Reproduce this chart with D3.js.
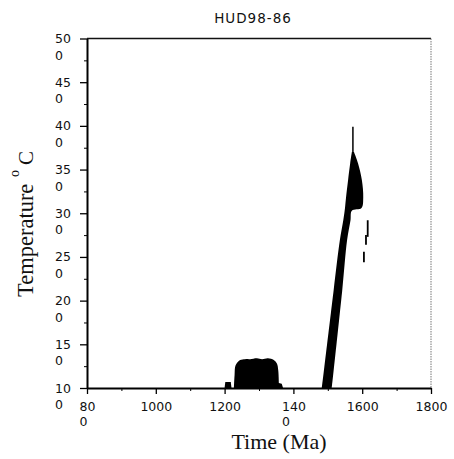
<!DOCTYPE html>
<html>
<head>
<meta charset="utf-8">
<script src="https://cdn.jsdelivr.net/npm/d3@7"></script>
<style>
    body { margin: 0; background: #fff; }
    .tick-label { font-family: "DejaVu Sans", sans-serif; font-size: 12.5px; fill: #111; }
    .serif { font-family: "Liberation Serif", "Times New Roman", serif; fill: #111; }
</style>
</head>
<body>
<div id="chart"></div>
<script>
// axis ticks and their (oddly wrapped) labels
const timeTicks = [800, 1000, 1200, 1400, 1600, 1800];
const xTickLabels = [["80", "0"], ["1000"], ["1200"], ["140", "0"], ["1600"], ["1800"]];
const tempTicks = [100, 150, 200, 250, 300, 350, 400, 450, 500];
const yTickLabels = [["10", "0"], ["15", "0"], ["20", "0"], ["25", "0"], ["30", "0"],
                     ["35", "0"], ["40", "0"], ["45", "0"], ["50", "0"]];

// early plateau cloud (Ma, top temperature)
const plateauTime = [1227, 1229, 1232, 1245, 1260, 1274, 1294, 1309, 1326, 1343, 1352, 1356, 1358];
const plateauTop = [100, 115, 126, 132, 133, 133, 134, 133, 134, 132, 128, 120, 100];

// small bumps on the axis
const bump1Time = [1200, 1202, 1218, 1220];
const bump1Top = [100, 107, 107, 100];
const bump2Time = [1352, 1355, 1366, 1370];
const bump2Top = [100, 106, 105, 100];

// steep cooling band: temperature, left edge (Ma), right edge (Ma)
const bandTemp = [100, 212, 269, 292, 303, 306, 318, 338, 357, 370];
const bandLeft = [1483, 1517, 1535, 1545, 1549, 1550, 1553, 1559, 1565, 1570];
const bandRight = [1512, 1542, 1556, 1566, 1570, 1598, 1603, 1599, 1588, 1576];

// spike above the band tip
const spikeTime = [1573, 1573];
const spikeTemp = [368, 399];

// loose dashes to the right of the band
const dashTime = [1616, 1611, 1605];
const dashTop = [292, 275, 256];
const dashBottom = [273, 264, 244];

const margin = { top: 38.5, left: 87, bottom: 71, right: 23 };
const fullWidth = 454;
const fullHeight = 459;
const width = fullWidth - margin.left - margin.right;
const height = fullHeight - margin.top - margin.bottom;

// label font metrics (DejaVu Sans digits are 0.636em wide)
const labelSize = 12.5;
const digitWidth = 0.636 * labelSize;

const svg = d3.select("#chart")
    .append("svg")
        .attr("width", fullWidth)
        .attr("height", fullHeight);

const g = svg.append("g")
    .attr("transform", `translate(${margin.left}, ${margin.top})`);

const x = d3.scaleLinear().domain([800, 1800]).range([0, width]);
const y = d3.scaleLinear().domain([100, 500]).range([height, 0]);

// frame: top and right
g.append("line")
    .attr("x1", 0).attr("x2", width)
    .attr("y1", y(500)).attr("y2", y(500))
    .attr("stroke", "#111").attr("stroke-width", 1.5);
g.append("line")
    .attr("x1", x(1800)).attr("x2", x(1800))
    .attr("y1", y(500)).attr("y2", y(100))
    .attr("stroke", "#777").attr("stroke-width", 1)
    .attr("stroke-dasharray", "1.5,1");

// data marks
const area = (xs, tops) => d3.area()
    .x((d, i) => x(xs[i]))
    .y0(y(100))
    .y1((d, i) => y(tops[i]));

g.append("path")
    .datum(plateauTime)
    .attr("d", area(plateauTime, plateauTop).curve(d3.curveCatmullRom.alpha(0.5)))
    .attr("fill", "#000");

[[bump1Time, bump1Top], [bump2Time, bump2Top]].forEach(([xs, tops]) => {
    g.append("path")
        .datum(xs)
        .attr("d", area(xs, tops))
        .attr("fill", "#000");
});

g.append("path")
    .datum(bandTemp)
    .attr("d", d3.area()
        .y(d => y(d))
        .x0((d, i) => x(bandLeft[i]))
        .x1((d, i) => x(bandRight[i]))
        .curve(d3.curveCatmullRom.alpha(0.5)))
    .attr("fill", "#000");

g.append("line")
    .attr("x1", x(spikeTime[0])).attr("x2", x(spikeTime[1]))
    .attr("y1", y(spikeTemp[0])).attr("y2", y(spikeTemp[1]))
    .attr("stroke", "#000").attr("stroke-width", 1.5);

g.selectAll(".dash")
    .data(dashTime)
    .enter()
    .append("line")
        .attr("class", "dash")
        .attr("x1", d => x(d)).attr("x2", d => x(d))
        .attr("y1", (d, i) => y(dashTop[i]))
        .attr("y2", (d, i) => y(dashBottom[i]))
        .attr("stroke", "#000").attr("stroke-width", 1.8);

// y axis
g.append("g")
    .call(d3.axisLeft(y).tickValues(d3.range(125, 500, 50)).tickSize(3).tickFormat(""))
    .call(a => a.select(".domain").remove());

const yAxis = g.append("g")
    .call(d3.axisLeft(y).tickValues(tempTicks).tickSize(7).tickSizeOuter(0).tickFormat(""));
yAxis.select(".domain").attr("stroke-width", 2);
yAxis.selectAll(".tick line").attr("stroke-width", 1.3);
yAxis.selectAll(".tick").each(function(d, i) {
    const t = d3.select(this);
    yTickLabels[i].forEach((s, k) => {
        t.append("text")
            .attr("class", "tick-label")
            .attr("text-anchor", "start")
            .attr("x", -32).attr("y", 4 + 16.5 * k)
            .text(s);
    });
});

// x axis
g.append("g")
    .attr("transform", `translate(0, ${height})`)
    .call(d3.axisBottom(x).tickValues(d3.range(900, 1800, 200)).tickSize(3).tickFormat(""))
    .call(a => a.select(".domain").remove());

const xAxis = g.append("g")
    .attr("transform", `translate(0, ${height})`)
    .call(d3.axisBottom(x).tickValues(timeTicks).tickSize(6).tickSizeOuter(0).tickFormat(""));
xAxis.select(".domain").attr("stroke-width", 2);
xAxis.selectAll(".tick line").attr("stroke-width", 1.3);
xAxis.selectAll(".tick").each(function(d, i) {
    const lines = xTickLabels[i];
    const t = d3.select(this);
    const left = -lines[0].length * digitWidth / 2;
    lines.forEach((s, k) => {
        t.append("text")
            .attr("class", "tick-label")
            .attr("text-anchor", "start")
            .attr("x", left).attr("y", 23 + 15 * k)
            .text(s);
    });
});

// titles
svg.append("text")
    .attr("x", 253).attr("y", 23)
    .attr("text-anchor", "middle")
    .style("font-family", "'DejaVu Sans', sans-serif")
    .style("font-size", "13.5px")
    .style("letter-spacing", "1px")
    .attr("fill", "#111")
    .text("HUD98-86");

svg.append("text")
    .attr("class", "serif")
    .attr("x", 279).attr("y", 449)
    .attr("text-anchor", "middle")
    .style("font-size", "22px")
    .text("Time (Ma)");

const yTitle = svg.append("text")
    .attr("class", "serif")
    .attr("transform", "translate(33, 297) rotate(-90)")
    .style("font-size", "22.5px");
yTitle.append("tspan").text("Temperature ");
yTitle.append("tspan").attr("dx", 1).attr("dy", -14).style("font-size", "14px").text("o");
yTitle.append("tspan").attr("dx", 5).attr("dy", 14).style("font-size", "21px").text("C");
</script>
</body>
</html>
